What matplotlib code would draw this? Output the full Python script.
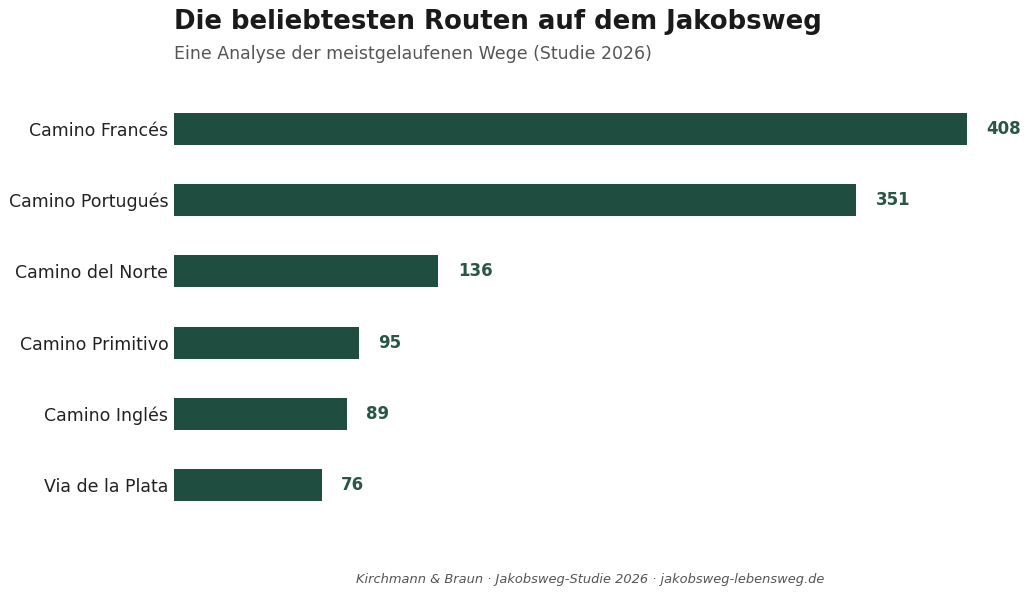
import matplotlib.pyplot as plt

# Daten
routes = ['Camino Francés', 'Camino Portugués', 'Camino del Norte',
          'Camino Primitivo', 'Camino Inglés', 'Via de la Plata']
counts = [408, 351, 136, 95, 89, 76]

bar_color = '#1f4d3f'

fig = plt.figure(figsize=(10.30, 5.98), dpi=100)
ax = fig.add_axes([174 / 1030, 1 - 535 / 598, (1010 - 174) / 1030, (535 - 79) / 598])

ypos = list(range(len(routes)))
ax.barh(ypos, counts, height=0.45, color=bar_color)
ax.set_ylim(len(routes) - 0.3, -0.7)
ax.set_xlim(0, 430)

for y, v in zip(ypos, counts):
    ax.text(v + 10, y, str(v), va='center', ha='left', fontsize=12,
            fontweight='bold', color='#2a5646')

ax.set_yticks(ypos)
ax.set_yticklabels(routes, fontsize=12.5, color='#222222')
ax.tick_params(axis='y', length=0, pad=4)
ax.set_xticks([])
for s in ax.spines.values():
    s.set_visible(False)

fig.text(174 / 1030, 1 - 22 / 598, 'Die beliebtesten Routen auf dem Jakobsweg',
         fontsize=18.7, fontweight='bold', color='#1a1a1a', va='center', ha='left')
fig.text(174 / 1030, 1 - 54 / 598, 'Eine Analyse der meistgelaufenen Wege (Studie 2026)',
         fontsize=12.5, color='#555555', va='center', ha='left')
fig.text(590 / 1030, 1 - 580 / 598,
         'Kirchmann & Braun · Jakobsweg-Studie 2026 · jakobsweg-lebensweg.de',
         fontsize=9.4, style='italic', color='#555555', va='center', ha='center')

fig.savefig('out.png', dpi=100)
